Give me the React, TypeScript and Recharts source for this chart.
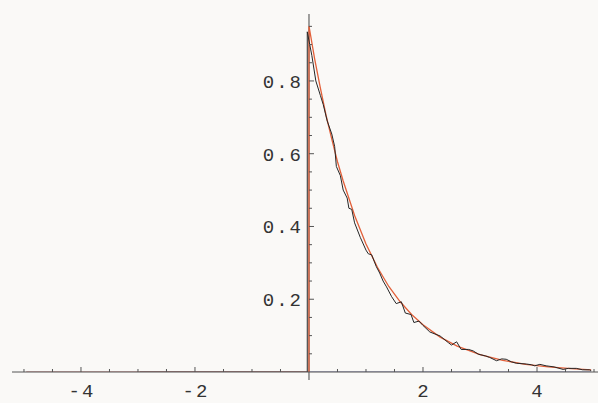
import React from "react";
import { ComposedChart, Line, Scatter, XAxis, YAxis, ReferenceLine } from "recharts";

// fitted curve (red)
const redX = [0, 0, 0.1, 0.2, 0.3, 0.4, 0.5, 0.6, 0.8, 1.0, 1.2, 1.4, 1.6, 1.8, 2.0, 2.3, 2.6, 3.0, 3.4, 3.8, 4.2, 4.6, 4.95];
const redY = [0, 0.951, 0.86, 0.78, 0.705, 0.64, 0.578, 0.525, 0.43, 0.352, 0.288, 0.235, 0.193, 0.158, 0.13, 0.096, 0.071, 0.048, 0.032, 0.021, 0.014, 0.009, 0.006];

// empirical curve (black)
const blackX = [-0.03, -0.03, 0.05, 0.12, 0.2, 0.25, 0.32, 0.4, 0.45, 0.48, 0.55, 0.6, 0.67, 0.7, 0.75, 0.8, 0.9, 1.0, 1.04, 1.1, 1.18, 1.24, 1.3, 1.36, 1.45, 1.53, 1.62, 1.69, 1.79, 1.84, 1.93, 2.0, 2.12, 2.3, 2.45, 2.5, 2.59, 2.67, 2.8, 2.88, 2.97, 3.1, 3.17, 3.29, 3.38, 3.46, 3.55, 3.64, 3.81, 3.9, 3.96, 4.05, 4.16, 4.3, 4.46, 4.55, 4.69, 4.8, 4.92, 4.95];
const blackY = [0, 0.935, 0.87, 0.8, 0.76, 0.735, 0.69, 0.654, 0.62, 0.565, 0.54, 0.5, 0.478, 0.45, 0.447, 0.41, 0.37, 0.335, 0.325, 0.322, 0.29, 0.272, 0.25, 0.234, 0.207, 0.188, 0.193, 0.162, 0.158, 0.136, 0.14, 0.128, 0.11, 0.099, 0.08, 0.074, 0.083, 0.062, 0.062, 0.058, 0.049, 0.044, 0.04, 0.031, 0.036, 0.035, 0.028, 0.024, 0.022, 0.02, 0.017, 0.021, 0.017, 0.014, 0.007, 0.01, 0.01, 0.006, 0.006, 0.004];

// flat pieces lying on the x axis
const redZeroX = [-4.96, 0];
const blackZeroX = [-2.97, -0.03];
const blueZeroX = [0, 4.95];

const xMajorTicks = [-4, -2, 2, 4];
const xMinorTicks = [-5, -4.5, -3.5, -3, -2.5, -1.5, -1, -0.5, 0.5, 1, 1.5, 2.5, 3, 3.5, 4.5, 5];
const yMajorTicks = [0.2, 0.4, 0.6, 0.8];
const yMinorTicks = [0.05, 0.1, 0.15, 0.25, 0.3, 0.35, 0.45, 0.5, 0.55, 0.65, 0.7, 0.75, 0.85, 0.9, 0.95];

const zip = (xs: number[], ys: number[]) => xs.map((x, i) => ({ x, y: ys[i] }));
const flat = (xs: number[]) => xs.map((x) => ({ x, y: 0 }));

const FONT = "'Liberation Mono', 'Courier New', monospace";
const AXIS = "#555";

const XTick = (props: any) => {
  const { x, y, payload } = props;
  const major = xMajorTicks.includes(payload.value);
  return (
    <g>
      <line x1={x} x2={x} y1={y} y2={y - (major ? 5 : 3)} stroke={AXIS} />
      {major && (
        <text x={x + 1} y={y + 25} textAnchor="middle" fontFamily={FONT} fontSize={19} letterSpacing={2} fill="#333">
          {payload.value < 0 ? "-" + Math.abs(payload.value) : String(payload.value)}
        </text>
      )}
    </g>
  );
};

const YTick = (props: any) => {
  const { cx, cy, payload } = props;
  const major = yMajorTicks.includes(payload.y);
  return (
    <g>
      <line x1={cx} x2={cx + (major ? 5 : 3)} y1={cy} y2={cy} stroke={AXIS} />
      {major && (
        <text x={cx - 6} y={cy + 7} textAnchor="end" fontFamily={FONT} fontSize={19} letterSpacing={2} fill="#333">
          {payload.y.toFixed(1)}
        </text>
      )}
    </g>
  );
};

export default function App() {
  const yTickData = [...yMajorTicks, ...yMinorTicks].map((v) => ({ x: 0, y: v }));
  return (
    <div style={{ position: "absolute", left: 0, top: 0, width: 598, height: 403, background: "#faf9f7" }}>
      <ComposedChart width={598} height={403} margin={{ top: 14, right: 0, left: 12, bottom: 0 }}>
        <XAxis
          dataKey="x"
          type="number"
          domain={[-5.21, 5.07]}
          allowDataOverflow
          ticks={[...xMajorTicks, ...xMinorTicks]}
          interval={0}
          height={31}
          tickSize={0}
          tickMargin={0}
          tick={<XTick />}
          axisLine={{ stroke: AXIS }}
          tickLine={false}
        />
        <YAxis type="number" domain={[0, 0.984]} allowDataOverflow hide width={0} />
        <ReferenceLine
          segment={[{ x: 0, y: -0.022 }, { x: 0, y: 0.984 }]}
          stroke="#444"
          ifOverflow="visible"
        />
        <Scatter data={yTickData} dataKey="y" shape={<YTick />} isAnimationActive={false} />
        <Line data={flat(redZeroX)} dataKey="y" type="linear" stroke="#b46666" strokeWidth={1.2} dot={false} activeDot={false} isAnimationActive={false} />
        <Line data={flat(blackZeroX)} dataKey="y" type="linear" stroke="#6b4444" strokeWidth={1.2} dot={false} activeDot={false} isAnimationActive={false} />
        <Line data={flat(blueZeroX)} dataKey="y" type="linear" stroke="#7272a6" strokeWidth={1.2} dot={false} activeDot={false} isAnimationActive={false} />
        <Line data={zip(redX, redY)} dataKey="y" type="linear" stroke="#e2603a" strokeWidth={1.3} dot={false} activeDot={false} isAnimationActive={false} />
        <Line data={zip(blackX, blackY)} dataKey="y" type="linear" stroke="#262626" strokeWidth={1} dot={false} activeDot={false} isAnimationActive={false} />
      </ComposedChart>
    </div>
  );
}
